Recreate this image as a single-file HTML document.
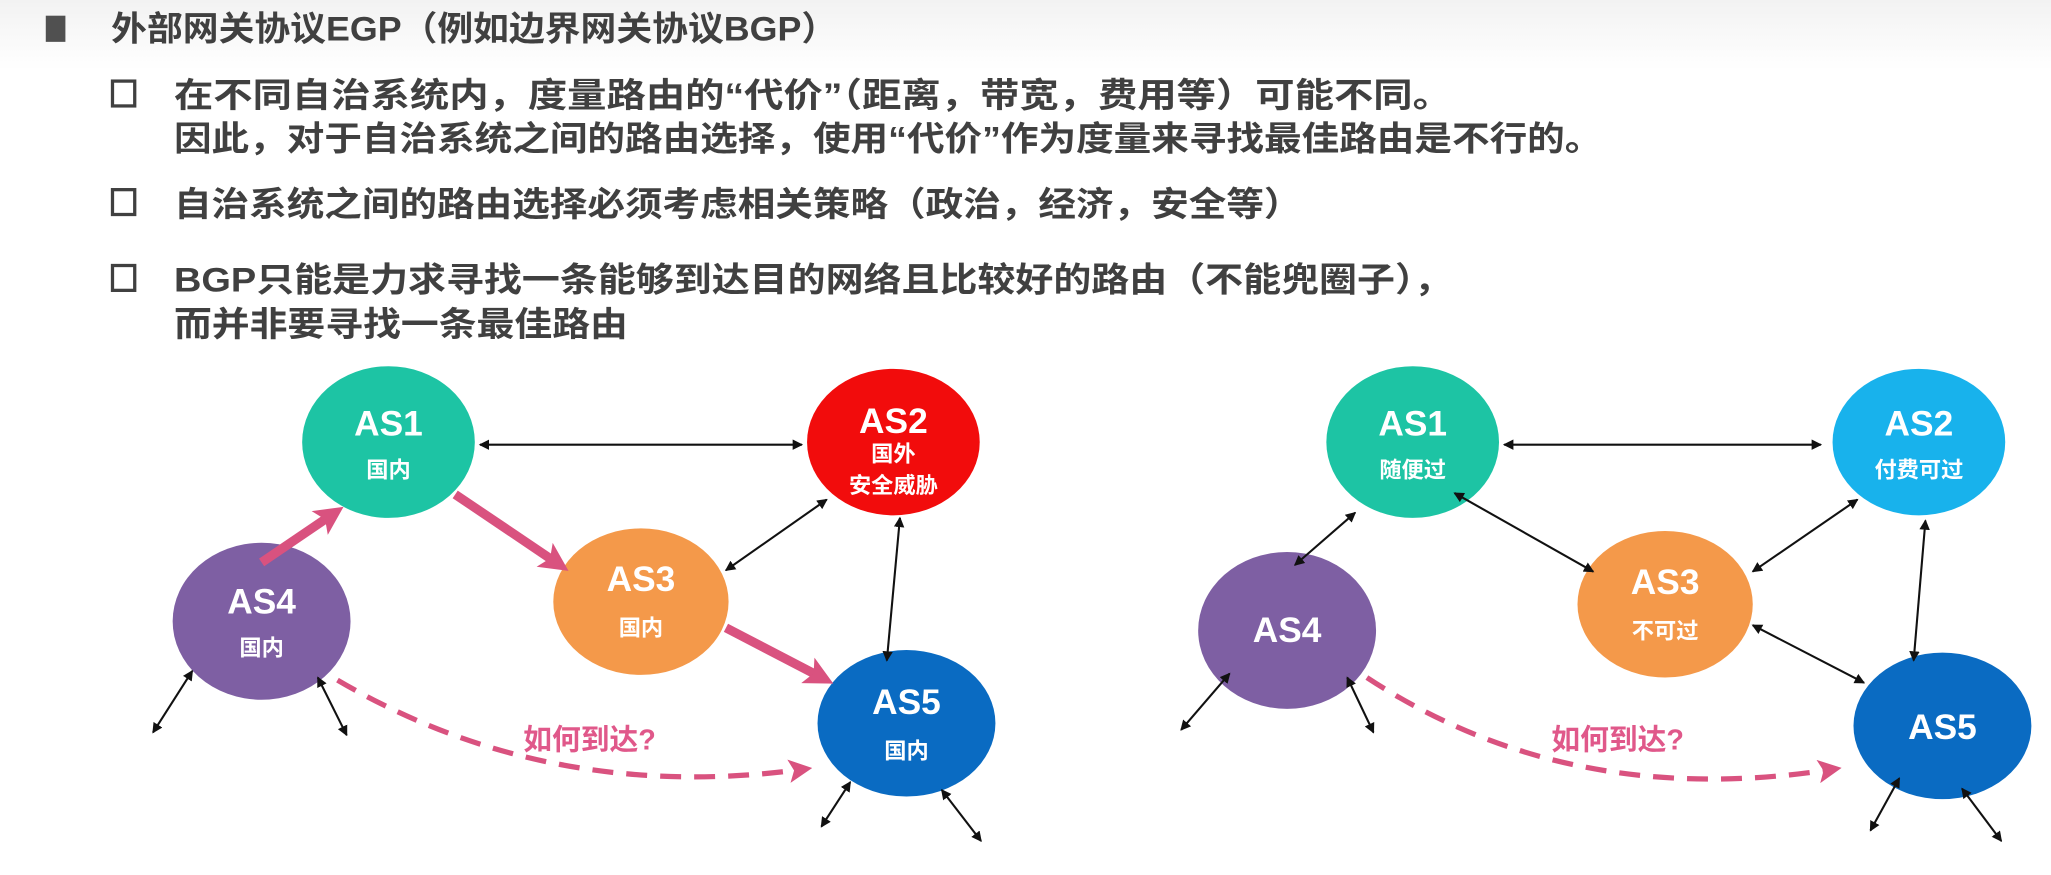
<!DOCTYPE html>
<html><head><meta charset="utf-8"><style>
html,body{margin:0;padding:0;background:#fff;}
svg{display:block;}
.t{font-family:"Liberation Sans","Noto Sans CJK SC",sans-serif;font-weight:bold;fill:#404040;font-size:26px;}
.n{font-family:"Liberation Sans","Noto Sans CJK SC",sans-serif;font-weight:bold;fill:#fff;text-anchor:middle;}
.big{font-size:27px;}
.sm{font-size:17px;}
.q{font-family:"Liberation Sans","Noto Sans CJK SC",sans-serif;font-weight:bold;fill:#e0588a;font-size:22px;}
</style></head><body>
<svg width="2051" height="875" viewBox="0 0 1568 669" preserveAspectRatio="none" xmlns="http://www.w3.org/2000/svg">
<defs>
<linearGradient id="bg" x1="0" y1="0" x2="0" y2="1"><stop offset="0" stop-color="#f2f2f2"/><stop offset="0.08" stop-color="#fff"/><stop offset="1" stop-color="#fff"/></linearGradient>
<marker id="ah" markerWidth="8" markerHeight="8" refX="7" refY="4" orient="auto-start-reverse" markerUnits="userSpaceOnUse"><path d="M0,0 L8,4 L0,8 z" fill="#111"/></marker>
<marker id="ph" markerWidth="22" markerHeight="22" refX="14" refY="11" orient="auto" markerUnits="userSpaceOnUse"><path d="M0,0 L22,11 L0,22 L5,11 z" fill="#d9527f"/></marker>
<marker id="dh" markerWidth="18" markerHeight="18" refX="12" refY="9" orient="auto" markerUnits="userSpaceOnUse"><path d="M0,0 L18,9 L0,18 L4,9 z" fill="#d9527f"/></marker>
</defs>
<rect width="1568" height="669" fill="url(#bg)"/>
<rect x="35" y="12" width="15" height="20" fill="#505050"/>
<text class="t" x="85" y="31" textLength="555" lengthAdjust="spacingAndGlyphs">外部网关协议EGP（例如边界网关协议BGP）</text>
<rect x="86" y="62" width="17" height="19" fill="none" stroke="#404040" stroke-width="2.5"/>
<text class="t" x="133" y="82" textLength="977" lengthAdjust="spacingAndGlyphs">在不同自治系统内，度量路由的“代价”（距离，带宽，费用等）可能不同。</text>
<text class="t" x="133" y="115" textLength="1092" lengthAdjust="spacingAndGlyphs">因此，对于自治系统之间的路由选择，使用“代价”作为度量来寻找最佳路由是不行的。</text>
<rect x="86" y="145" width="17" height="19" fill="none" stroke="#404040" stroke-width="2.5"/>
<text class="t" x="133" y="165" textLength="862" lengthAdjust="spacingAndGlyphs">自治系统之间的路由选择必须考虑相关策略（政治，经济，安全等）</text>
<rect x="86" y="203" width="17" height="19" fill="none" stroke="#404040" stroke-width="2.5"/>
<text class="t" x="133" y="223" textLength="977" lengthAdjust="spacingAndGlyphs">BGP只能是力求寻找一条能够到达目的网络且比较好的路由（不能兜圈子），</text>
<text class="t" x="133" y="257" textLength="347" lengthAdjust="spacingAndGlyphs">而并非要寻找一条最佳路由</text>

<!-- LEFT DIAGRAM -->
<ellipse cx="297" cy="338" rx="66" ry="58" fill="#1dc4a4"/>
<ellipse cx="683" cy="338" rx="66" ry="56" fill="#f20c0c"/>
<ellipse cx="490" cy="460" rx="67" ry="56" fill="#f4994a"/>
<ellipse cx="200" cy="475" rx="68" ry="60" fill="#7e5fa3"/>
<ellipse cx="693" cy="553" rx="68" ry="56" fill="#0a6bc2"/>
<g stroke="#111" stroke-width="1.6" fill="none">
<line x1="367" y1="340" x2="613" y2="340" marker-start="url(#ah)" marker-end="url(#ah)"/>
<line x1="632" y1="382" x2="555" y2="436" marker-start="url(#ah)" marker-end="url(#ah)"/>
<line x1="688" y1="396" x2="678" y2="505" marker-start="url(#ah)" marker-end="url(#ah)"/>
<line x1="147" y1="513" x2="117" y2="560" marker-start="url(#ah)" marker-end="url(#ah)"/>
<line x1="243" y1="518" x2="265" y2="562" marker-start="url(#ah)" marker-end="url(#ah)"/>
<line x1="650" y1="598" x2="628" y2="632" marker-start="url(#ah)" marker-end="url(#ah)"/>
<line x1="720" y1="604" x2="750" y2="643" marker-start="url(#ah)" marker-end="url(#ah)"/>
</g>
<g stroke="#d9527f" stroke-width="7" fill="none">
<line x1="200" y1="430" x2="256" y2="392" marker-end="url(#ph)"/>
<line x1="348" y1="378" x2="428" y2="432" marker-end="url(#ph)"/>
<line x1="555" y1="480" x2="630" y2="519" marker-end="url(#ph)"/>
</g>
<path d="M258,520 Q420,615 615,588" stroke="#d9527f" stroke-width="4" fill="none" stroke-dasharray="16,10" marker-end="url(#dh)"/>
<text class="q" x="400" y="573">如何到达?</text>
<text class="n big" x="297" y="333">AS1</text><text class="n sm" x="297" y="365">国内</text>
<text class="n big" x="683" y="331">AS2</text><text class="n sm" x="683" y="353">国外</text><text class="n sm" x="683" y="377">安全威胁</text>
<text class="n big" x="490" y="452">AS3</text><text class="n sm" x="490" y="486">国内</text>
<text class="n big" x="200" y="469">AS4</text><text class="n sm" x="200" y="501">国内</text>
<text class="n big" x="693" y="546">AS5</text><text class="n sm" x="693" y="580">国内</text>

<!-- RIGHT DIAGRAM -->
<ellipse cx="1080" cy="338" rx="66" ry="58" fill="#1dc4a4"/>
<ellipse cx="1467" cy="338" rx="66" ry="56" fill="#18b2ec"/>
<ellipse cx="1273" cy="462" rx="67" ry="56" fill="#f4994a"/>
<ellipse cx="984" cy="482" rx="68" ry="60" fill="#7e5fa3"/>
<ellipse cx="1485" cy="555" rx="68" ry="56" fill="#0a6bc2"/>
<g stroke="#111" stroke-width="1.6" fill="none">
<line x1="1150" y1="340" x2="1392" y2="340" marker-start="url(#ah)" marker-end="url(#ah)"/>
<line x1="1036" y1="392" x2="990" y2="432" marker-start="url(#ah)" marker-end="url(#ah)"/>
<line x1="1112" y1="377" x2="1218" y2="437" marker-start="url(#ah)" marker-end="url(#ah)"/>
<line x1="1420" y1="382" x2="1340" y2="437" marker-start="url(#ah)" marker-end="url(#ah)"/>
<line x1="1472" y1="398" x2="1463" y2="505" marker-start="url(#ah)" marker-end="url(#ah)"/>
<line x1="1340" y1="478" x2="1425" y2="522" marker-start="url(#ah)" marker-end="url(#ah)"/>
<line x1="940" y1="515" x2="903" y2="558" marker-start="url(#ah)" marker-end="url(#ah)"/>
<line x1="1030" y1="518" x2="1050" y2="560" marker-start="url(#ah)" marker-end="url(#ah)"/>
<line x1="1452" y1="595" x2="1430" y2="635" marker-start="url(#ah)" marker-end="url(#ah)"/>
<line x1="1500" y1="603" x2="1530" y2="643" marker-start="url(#ah)" marker-end="url(#ah)"/>
</g>
<path d="M1045,518 Q1200,620 1402,588" stroke="#d9527f" stroke-width="4" fill="none" stroke-dasharray="16,10" marker-end="url(#dh)"/>
<text class="q" x="1186" y="573">如何到达?</text>
<text class="n big" x="1080" y="333">AS1</text><text class="n sm" x="1080" y="365">随便过</text>
<text class="n big" x="1467" y="333">AS2</text><text class="n sm" x="1467" y="365">付费可过</text>
<text class="n big" x="1273" y="454">AS3</text><text class="n sm" x="1273" y="488">不可过</text>
<text class="n big" x="984" y="491">AS4</text>
<text class="n big" x="1485" y="565">AS5</text>
</svg>
</body></html>
